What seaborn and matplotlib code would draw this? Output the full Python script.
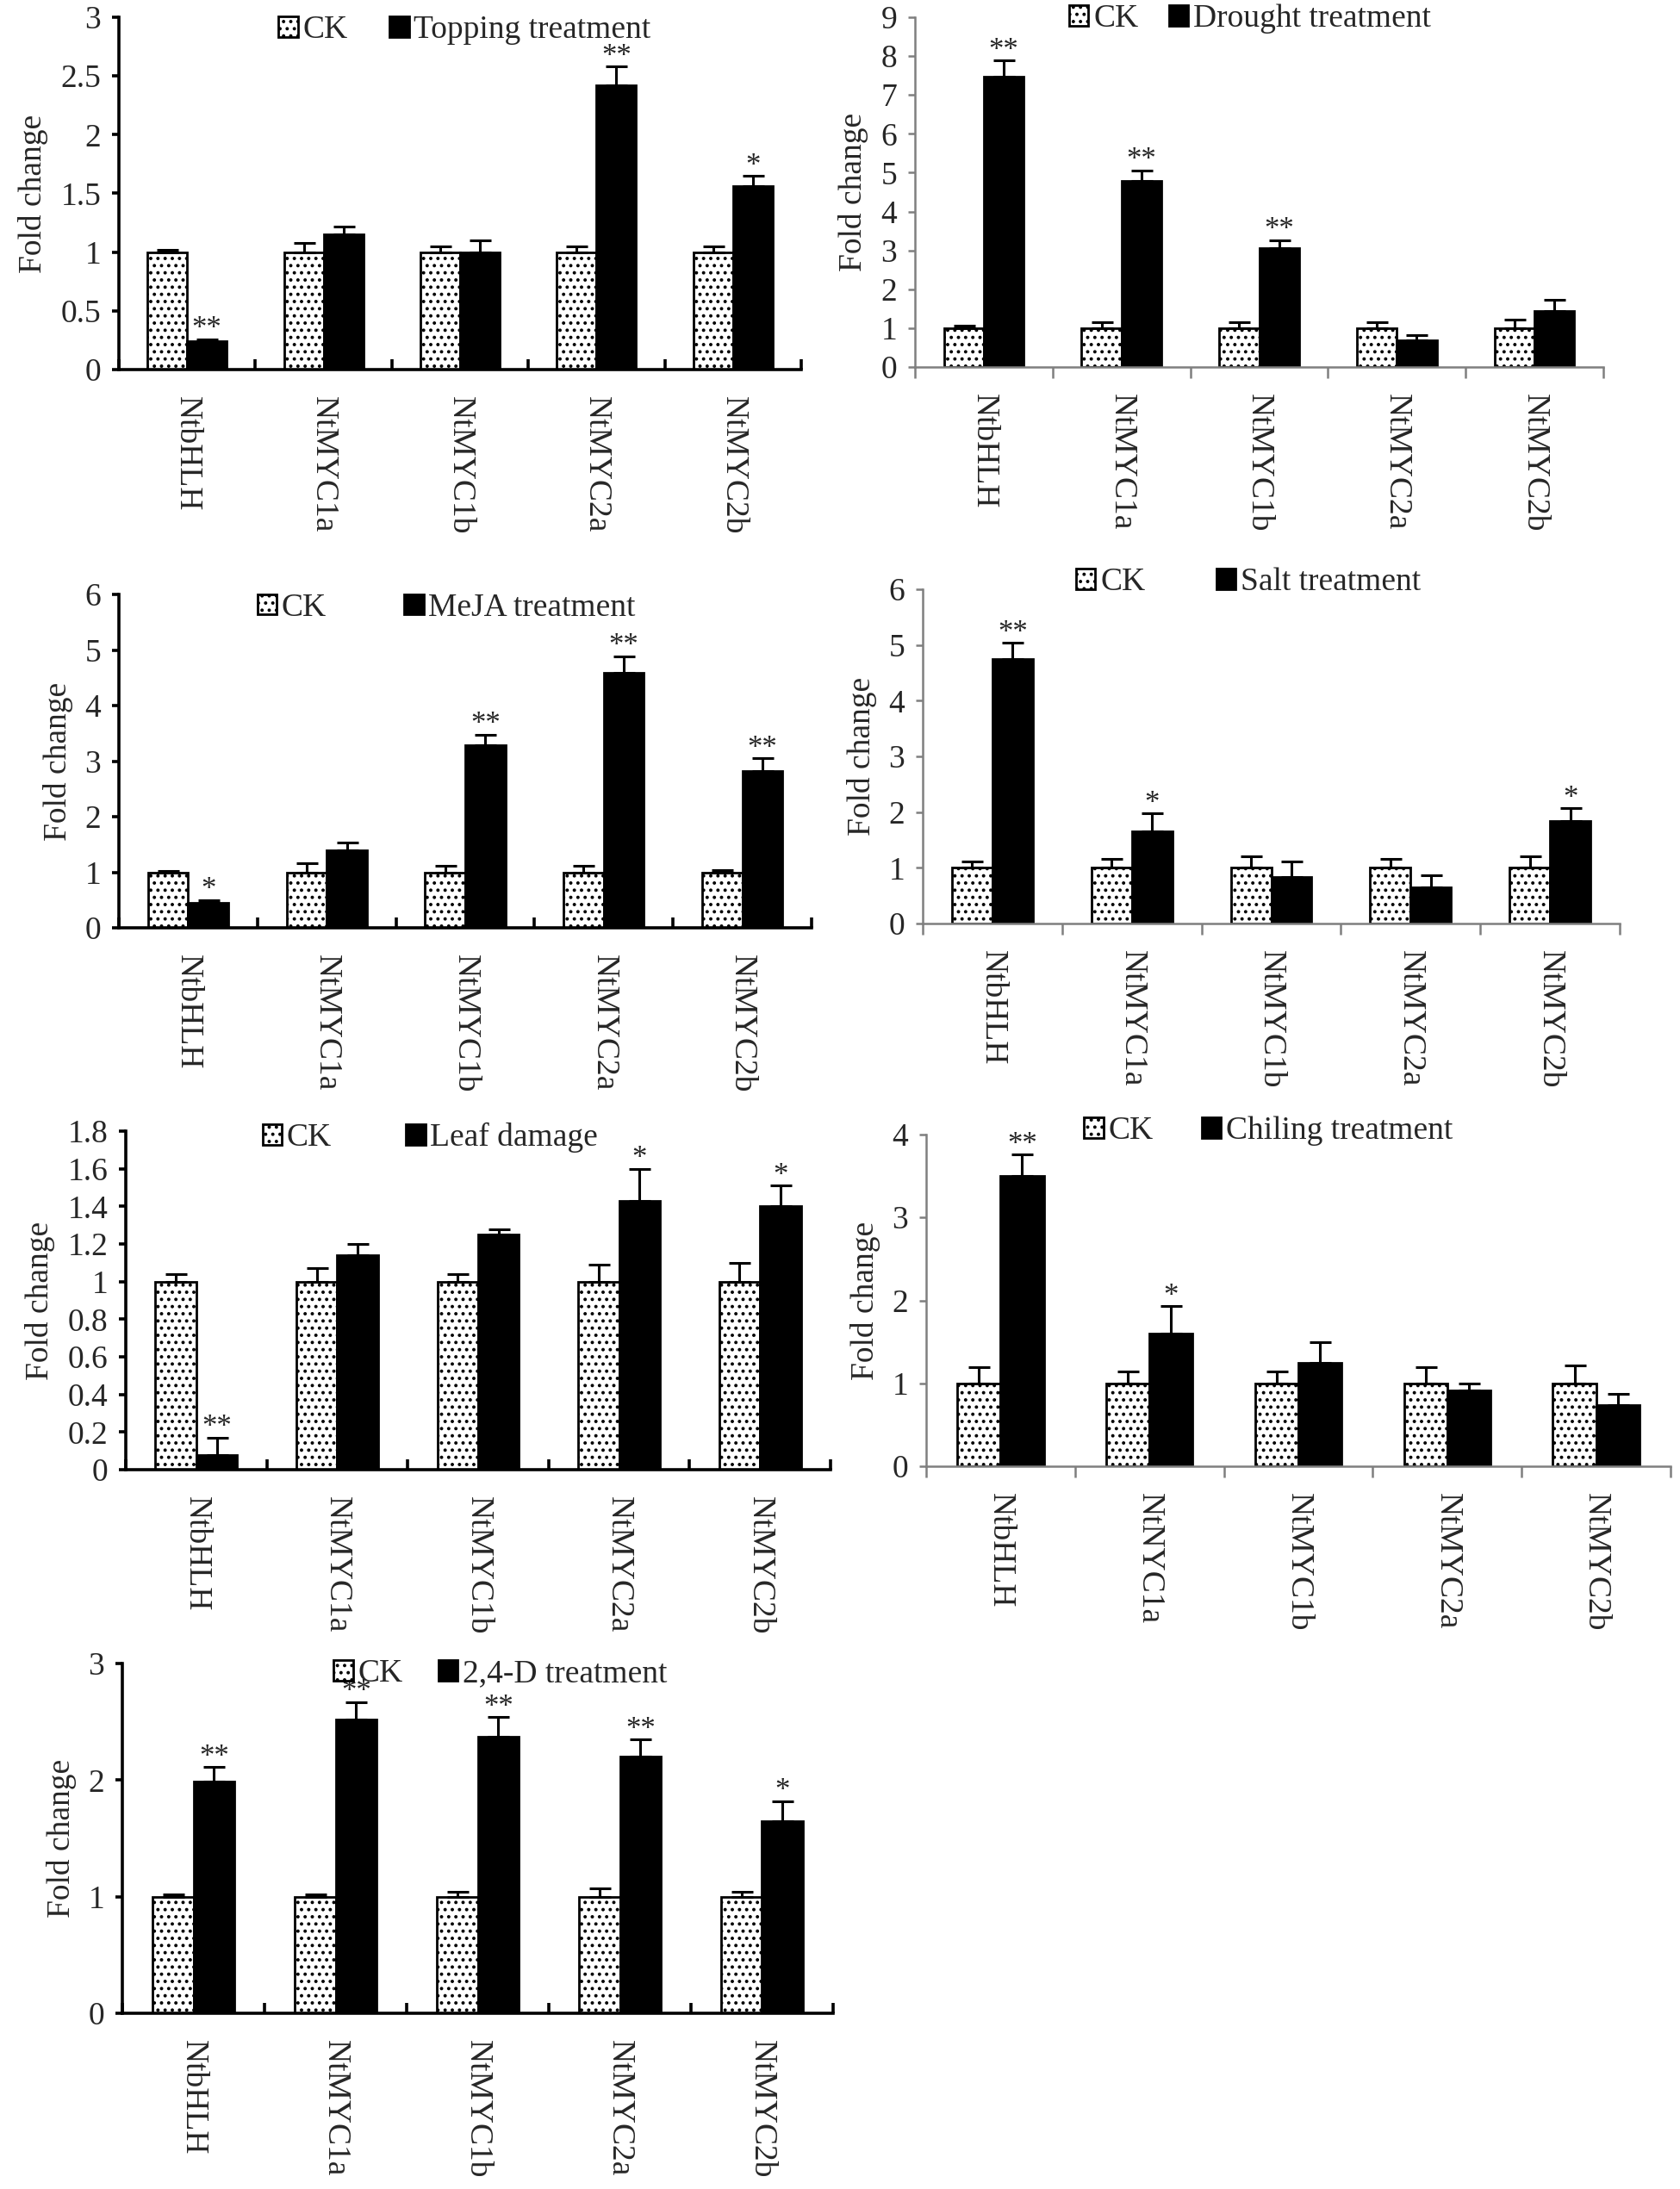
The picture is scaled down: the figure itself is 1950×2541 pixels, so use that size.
import numpy as np
import pandas as pd
import matplotlib
matplotlib.use('Agg')
import matplotlib.pyplot as plt
import seaborn as sns

# values
genes = ['NtbHLH', 'NtMYC1a', 'NtMYC1b', 'NtMYC2a', 'NtMYC2b']
genes_chill = ['NtbHLH', 'NtNYC1a', 'NtMYC1b', 'NtMYC2a', 'NtMYC2b']

topping_ck = [1.0, 1.0, 1.0, 1.0, 1.0]
topping_ck_err = [0.02, 0.08, 0.05, 0.05, 0.05]
topping_trt = [0.24, 1.15, 1.0, 2.42, 1.56]
topping_trt_err = [0.02, 0.07, 0.10, 0.16, 0.09]
topping_sig = ['**', '', '', '**', '*']

drought_ck = [1.0, 1.0, 1.0, 1.0, 1.0]
drought_ck_err = [0.07, 0.15, 0.15, 0.15, 0.22]
drought_trt = [7.47, 4.79, 3.06, 0.68, 1.43]
drought_trt_err = [0.42, 0.27, 0.20, 0.13, 0.31]
drought_sig = ['**', '**', '**', '', '']

meja_ck = [1.0, 1.0, 1.0, 1.0, 1.0]
meja_ck_err = [0.03, 0.16, 0.12, 0.12, 0.04]
meja_trt = [0.45, 1.40, 3.28, 4.59, 2.82]
meja_trt_err = [0.05, 0.13, 0.20, 0.30, 0.23]
meja_sig = ['*', '', '**', '**', '**']

salt_ck = [1.0, 1.0, 1.0, 1.0, 1.0]
salt_ck_err = [0.11, 0.16, 0.21, 0.16, 0.21]
salt_trt = [4.74, 1.66, 0.84, 0.65, 1.84]
salt_trt_err = [0.30, 0.32, 0.27, 0.21, 0.23]
salt_sig = ['**', '*', '', '', '*']

leaf_ck = [1.0, 1.0, 1.0, 1.0, 1.0]
leaf_ck_err = [0.04, 0.07, 0.04, 0.09, 0.10]
leaf_trt = [0.08, 1.14, 1.25, 1.43, 1.40]
leaf_trt_err = [0.09, 0.06, 0.03, 0.17, 0.11]
leaf_sig = ['**', '', '', '*', '*']

chill_ck = [1.0, 1.0, 1.0, 1.0, 1.0]
chill_ck_err = [0.19, 0.14, 0.14, 0.19, 0.22]
chill_trt = [3.5, 1.6, 1.25, 0.91, 0.74]
chill_trt_err = [0.26, 0.33, 0.25, 0.09, 0.13]
chill_sig = ['**', '*', '', '', '']

d24_ck = [1.0, 1.0, 1.0, 1.0, 1.0]
d24_ck_err = [0.02, 0.02, 0.04, 0.07, 0.04]
d24_trt = [1.99, 2.52, 2.37, 2.2, 1.65]
d24_trt_err = [0.12, 0.15, 0.17, 0.15, 0.17]
d24_sig = ['**', '**', '**', '**', '*']

sns.set_style('ticks')
plt.rcParams['font.family'] = ['Liberation Serif', 'DejaVu Serif']
plt.rcParams['hatch.linewidth'] = 1.6
plt.rcParams['hatch.color'] = 'black'

W, H = 1950, 2541
fig = plt.figure(figsize=(W / 100, H / 100), dpi=100)

FS = 27

# panel: (title, labels, ck, ck_err, trt, trt_err, sig, ymax, ystep, rect px (left, right, top, bottom),
#         left_side, legend x, legend y, column spacing)
panels = [
    ('Topping treatment', genes, topping_ck, topping_ck_err, topping_trt, topping_trt_err, topping_sig,
     3, 0.5, (138, 930, 20, 429), True, 0.234, 0.963, 1.3),
    ('Drought treatment', genes, drought_ck, drought_ck_err, drought_trt, drought_trt_err, drought_sig,
     9, 1, (1062, 1861, 20, 426), False, 0.224, 0.995, 0.95),
    ('MeJA treatment', genes, meja_ck, meja_ck_err, meja_trt, meja_trt_err, meja_sig,
     6, 1, (138, 942, 690, 1077), True, 0.200, 0.960, 2.4),
    ('Salt treatment', genes, salt_ck, salt_ck_err, salt_trt, salt_trt_err, salt_sig,
     6, 1, (1071, 1880, 684, 1072), False, 0.220, 1.020, 2.2),
    ('Leaf damage', genes, leaf_ck, leaf_ck_err, leaf_trt, leaf_trt_err, leaf_sig,
     1.8, 0.2, (146, 964, 1313, 1706), True, 0.194, 0.980, 2.3),
    ('Chiling treatment', genes_chill, chill_ck, chill_ck_err, chill_trt, chill_trt_err, chill_sig,
     4, 1, (1075, 1939, 1317, 1702), False, 0.212, 1.010, 1.5),
    ('2,4-D treatment', genes, d24_ck, d24_ck_err, d24_trt, d24_trt_err, d24_sig,
     3, 1, (142, 967, 1931, 2337), True, 0.297, 0.970, 1.1),
]

for (title, labels, ck, ck_err, trt, trt_err, sig, ymax, ystep, rect,
     left_side, lx, ly, colsp) in panels:
    l, r, t, b = rect
    ax = fig.add_axes([l / W, 1 - b / H, (r - l) / W, (b - t) / H])

    df = pd.DataFrame({
        'gene': labels * 2,
        'group': ['CK'] * 5 + [title] * 5,
        'value': ck + trt,
    })
    sns.barplot(data=df, x='gene', y='value', hue='group', order=labels,
                palette={'CK': 'white', title: 'black'}, edgecolor='black',
                linewidth=2.0, width=0.58, errorbar=None, ax=ax)

    bars = list(ax.containers[:2])
    for p in bars[0]:
        p.set_hatch('..')

    errs = [ck_err, trt_err]
    vals = [ck, trt]
    centers = []
    for k, cont in enumerate(bars):
        xs = [p.get_x() + p.get_width() / 2 for p in cont]
        centers.append(xs)
        e = np.array(errs[k])
        ax.errorbar(xs, vals[k], yerr=[np.zeros_like(e), e], fmt='none',
                    ecolor='black', elinewidth=2.2, capsize=9, capthick=2.2, zorder=5)

    for x, v, e, s in zip(centers[1], trt, trt_err, sig):
        if s:
            ax.annotate(s, (x, v + e), xytext=(0, -4), textcoords='offset points',
                        ha='center', va='bottom', fontsize=25)

    handles, labs = ax.get_legend_handles_labels()
    leg = ax.legend(handles, labs, loc='center left', bbox_to_anchor=(lx, ly), ncol=2,
                    frameon=False, fontsize=FS, handlelength=0.6, handleheight=0.6,
                    handletextpad=0.15, columnspacing=colsp, borderaxespad=0, borderpad=0)
    leg.legend_handles[0].set_hatch('..')
    leg.legend_handles[0].set_linewidth(2.0)

    ax.set_xlim(-0.5, 4.5)
    ax.set_ylim(0, ymax)
    ax.set_yticks(np.arange(0, ymax + ystep / 2, ystep))
    ax.set_yticklabels(['%g' % v for v in np.arange(0, ymax + ystep / 2, ystep)])
    ax.set_xticks(range(5))
    ax.set_xticklabels(labels, rotation=270, ha='center', va='top')
    ax.set_xticks(np.arange(-0.5, 5, 1), minor=True)
    ax.set_xlabel('')
    ax.set_ylabel('Fold change', fontsize=FS, labelpad=10)

    spine_col = 'black' if left_side else '#7f7f7f'
    spine_w = 2.6 if left_side else 1.8
    sns.despine(ax=ax)
    for side in ['left', 'bottom']:
        ax.spines[side].set_color(spine_col)
        ax.spines[side].set_linewidth(spine_w)
    ax.tick_params(axis='x', which='major', length=0, pad=22, labelsize=FS)
    ax.tick_params(axis='x', which='minor', length=9, width=spine_w, color=spine_col,
                   direction='in' if left_side else 'out')
    ax.tick_params(axis='y', length=6, width=spine_w, color=spine_col, pad=9, labelsize=FS)
    ax.set_facecolor('white')

fig.savefig('out.png', dpi=100, facecolor='white')
